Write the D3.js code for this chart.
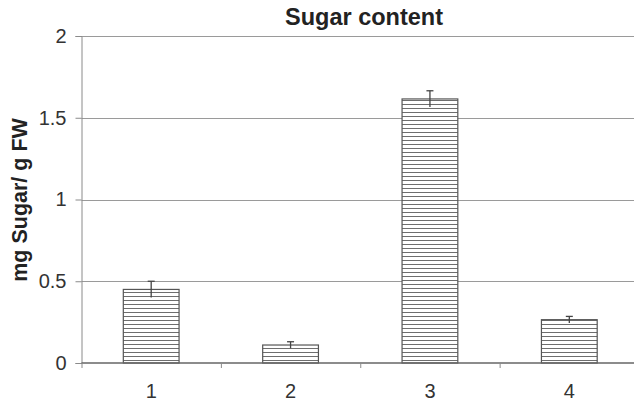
<!DOCTYPE html>
<html>
<head>
<meta charset="utf-8">
<script src="https://cdn.jsdelivr.net/npm/d3@7"></script>
<style>
  body { margin: 0; background: #fff; }
  svg { display: block; font-family: "Liberation Sans", Arial, sans-serif; }
</style>
</head>
<body>
<div id="chart"></div>
<script>
// data
const categories = ["1", "2", "3", "4"];
const sugarValues = [0.45, 0.11, 1.615, 0.265];
const sugarErrors = [0.05, 0.02, 0.05, 0.02];
const yTicks = [0, 0.5, 1, 1.5, 2];

const W = 634, H = 404;
const margin = {top: 36, right: -5, bottom: 41, left: 81.5};
const width = W - margin.left - margin.right,
      height = H - margin.top - margin.bottom;

const svg = d3.select("#chart").append("svg")
    .attr("width", W)
    .attr("height", H);

// hatch pattern for the bars
const defs = svg.append("defs");
const pat = defs.append("pattern")
    .attr("id", "hatch")
    .attr("patternUnits", "userSpaceOnUse")
    .attr("width", 8)
    .attr("height", 4);
pat.append("rect").attr("width", 8).attr("height", 4).attr("fill", "#fff");
pat.append("line")
    .attr("x1", 0).attr("x2", 8)
    .attr("y1", 0.5).attr("y2", 0.5)
    .attr("stroke", "#6e6e6e")
    .attr("stroke-width", 1);

const g = svg.append("g")
    .attr("transform", `translate(${margin.left}, ${margin.top})`);

const x = d3.scaleBand()
    .domain(categories)
    .range([0, width])
    .paddingInner(0.6)
    .paddingOuter(0.3);

const y = d3.scaleLinear()
    .domain([0, 2])
    .range([height, 0]);

// grid lines
g.append("g")
    .selectAll("line")
    .data(yTicks.filter(d => d > 0))
    .enter()
    .append("line")
      .attr("x1", 0)
      .attr("x2", width)
      .attr("y1", d => Math.round(y(d)) + 0.5)
      .attr("y2", d => Math.round(y(d)) + 0.5)
      .attr("stroke", "#9a9a9a")
      .attr("stroke-width", 1);

// Y axis
const yAxis = g.append("g")
    .call(d3.axisLeft(y).tickValues(yTicks).tickSize(6).tickPadding(9)
      .tickFormat(d3.format("")));
yAxis.select(".domain").attr("stroke", "#8a8a8a");
yAxis.selectAll(".tick line").attr("stroke", "#8a8a8a");
yAxis.selectAll(".tick text")
    .attr("fill", "#333")
    .style("font-size", "20px");

// bars
g.append("g")
    .selectAll("rect")
    .data(sugarValues)
    .enter()
    .append("rect")
      .attr("x", (d, i) => x(categories[i]))
      .attr("y", d => y(d))
      .attr("width", x.bandwidth())
      .attr("height", d => height - y(d))
      .attr("fill", "url(#hatch)")
      .attr("stroke", "#555")
      .attr("stroke-width", 1.2);

// error bars
const err = g.append("g").attr("stroke", "#444").attr("stroke-width", 1.3);
sugarValues.forEach((v, i) => {
  const cx = x(categories[i]) + x.bandwidth() / 2;
  err.append("line")
      .attr("x1", cx).attr("x2", cx)
      .attr("y1", y(v - sugarErrors[i]))
      .attr("y2", y(v + sugarErrors[i]));
  err.append("line")
      .attr("x1", cx - 3.5).attr("x2", cx + 3.5)
      .attr("y1", y(v + sugarErrors[i]))
      .attr("y2", y(v + sugarErrors[i]));
});

// X axis with ticks on the category boundaries
const xAxis = g.append("g")
    .attr("transform", `translate(0, ${height})`);
xAxis.append("line")
    .attr("x1", 0).attr("x2", width)
    .attr("stroke", "#666")
    .attr("stroke-width", 1.5);
const step = x.step();
const bounds = d3.range(categories.length).map(i => i * step);
xAxis.selectAll(".bt")
    .data(bounds)
    .enter()
    .append("line")
      .attr("class", "bt")
      .attr("x1", d => d + 0.5).attr("x2", d => d + 0.5)
      .attr("y1", 0).attr("y2", 5)
      .attr("stroke", "#8a8a8a");
xAxis.selectAll(".lbl")
    .data(categories)
    .enter()
    .append("text")
      .attr("class", "lbl")
      .attr("x", d => x(d) + x.bandwidth() / 2)
      .attr("y", 35)
      .attr("text-anchor", "middle")
      .attr("fill", "#333")
      .style("font-size", "20px")
      .text(d => d);

// title
svg.append("text")
    .attr("x", 364)
    .attr("y", 25)
    .attr("text-anchor", "middle")
    .attr("fill", "#222")
    .style("font-size", "23.5px")
    .style("font-weight", "bold")
    .text("Sugar content");

// y axis label
svg.append("text")
    .attr("transform", "translate(27, 200) rotate(-90)")
    .attr("text-anchor", "middle")
    .attr("fill", "#222")
    .style("font-size", "21.5px")
    .style("font-weight", "bold")
    .text("mg Sugar/ g FW");
</script>
</body>
</html>
